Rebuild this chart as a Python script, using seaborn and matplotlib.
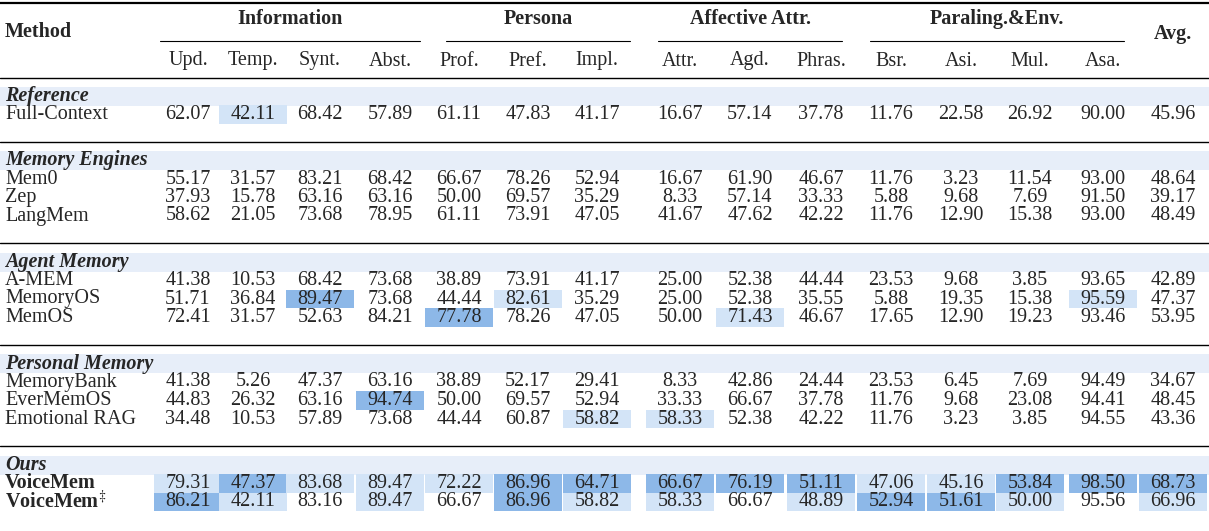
import numpy as np
import seaborn as sns
import matplotlib.pyplot as plt
from matplotlib.patches import Rectangle

sns.set_theme(style="white")
plt.rcParams['font.family'] = ['Liberation Serif', 'DejaVu Serif']
plt.rcParams['mathtext.fontset'] = 'stix'

groups = ["Information", "Persona", "Affective Attr.", "Paraling.&Env."]
sub_cols = ["Upd.", "Temp.", "Synt.", "Abst.", "Prof.", "Pref.", "Impl.",
            "Attr.", "Agd.", "Phras.", "Bsr.", "Asi.", "Mul.", "Asa."]

sections = ["Reference", "Memory Engines", "Agent Memory", "Personal Memory", "Ours"]
methods = [
    ["Full-Context"],
    ["Mem0", "Zep", "LangMem"],
    ["A-MEM", "MemoryOS", "MemOS"],
    ["MemoryBank", "EverMemOS", "Emotional RAG"],
    ["VoiceMem", "VoiceMem$^{\\ddagger}$"],
]

full_context = [62.07, 42.11, 68.42, 57.89, 61.11, 47.83, 41.17, 16.67, 57.14, 37.78, 11.76, 22.58, 26.92, 90.00, 45.96]
mem0 = [55.17, 31.57, 83.21, 68.42, 66.67, 78.26, 52.94, 16.67, 61.90, 46.67, 11.76, 3.23, 11.54, 93.00, 48.64]
zep = [37.93, 15.78, 63.16, 63.16, 50.00, 69.57, 35.29, 8.33, 57.14, 33.33, 5.88, 9.68, 7.69, 91.50, 39.17]
langmem = [58.62, 21.05, 73.68, 78.95, 61.11, 73.91, 47.05, 41.67, 47.62, 42.22, 11.76, 12.90, 15.38, 93.00, 48.49]
a_mem = [41.38, 10.53, 68.42, 73.68, 38.89, 73.91, 41.17, 25.00, 52.38, 44.44, 23.53, 9.68, 3.85, 93.65, 42.89]
memoryos = [51.71, 36.84, 89.47, 73.68, 44.44, 82.61, 35.29, 25.00, 52.38, 35.55, 5.88, 19.35, 15.38, 95.59, 47.37]
memos = [72.41, 31.57, 52.63, 84.21, 77.78, 78.26, 47.05, 50.00, 71.43, 46.67, 17.65, 12.90, 19.23, 93.46, 53.95]
memorybank = [41.38, 5.26, 47.37, 63.16, 38.89, 52.17, 29.41, 8.33, 42.86, 24.44, 23.53, 6.45, 7.69, 94.49, 34.67]
evermemos = [44.83, 26.32, 63.16, 94.74, 50.00, 69.57, 52.94, 33.33, 66.67, 37.78, 11.76, 9.68, 23.08, 94.41, 48.45]
emotional_rag = [34.48, 10.53, 57.89, 73.68, 44.44, 60.87, 58.82, 58.33, 52.38, 42.22, 11.76, 3.23, 3.85, 94.55, 43.36]
voicemem = [79.31, 47.37, 83.68, 89.47, 72.22, 86.96, 64.71, 66.67, 76.19, 51.11, 47.06, 45.16, 53.84, 98.50, 68.73]
voicemem_dd = [86.21, 42.11, 83.16, 89.47, 66.67, 86.96, 58.82, 58.33, 66.67, 48.89, 52.94, 51.61, 50.00, 95.56, 66.96]

values = [[full_context], [mem0, zep, langmem], [a_mem, memoryos, memos],
          [memorybank, evermemos, emotional_rag], [voicemem, voicemem_dd]]

# highlight level per cell: 2 = best, 1 = second
hl = {
    ("Full-Context", 1): 1,
    ("MemoryOS", 2): 2, ("MemoryOS", 5): 1, ("MemoryOS", 13): 1,
    ("MemOS", 4): 2, ("MemOS", 8): 1,
    ("EverMemOS", 3): 2,
    ("Emotional RAG", 6): 1, ("Emotional RAG", 7): 1,
}
vm_levels = [1, 2, 1, 1, 1, 2, 2, 2, 2, 2, 1, 1, 2, 2, 2]
vmd_levels = [2, 1, 0, 1, 0, 2, 1, 1, 0, 1, 2, 2, 1, 0, 1]
for j, lv in enumerate(vm_levels):
    if lv:
        hl[("VoiceMem", j)] = lv
for j, lv in enumerate(vmd_levels):
    if lv:
        hl[("VoiceMem$^{\\ddagger}$", j)] = lv

colors = {1: "#d3e4f7", 2: "#8db8e8"}
band = "#e7eef9"

# layout (pixel coordinates)
col_x = [188, 253, 320, 390, 459, 528, 597, 680, 750, 821, 891, 961, 1030, 1103, 1173]
cell_w = 68
spans = [(160, 420), (446, 630), (658, 842), (870, 1124)]

fig = plt.figure(figsize=(12.09, 5.31), dpi=100)
ax = fig.add_axes([0, 0, 1, 1])
ax.set_xlim(0, 1209)
ax.set_ylim(531, 0)
ax.axis("off")

fs = 14.5
ax.plot([0, 1209], [3, 3], color="black", lw=1.6)
ax.text(5, 32, "Method", fontsize=fs, fontweight="bold", va="center")
ax.text(col_x[-1], 34, "Avg.", fontsize=fs, fontweight="bold", va="center", ha="center")
for g, (x0, x1) in zip(groups, spans):
    ax.text((x0 + x1) / 2, 19, g, fontsize=fs, fontweight="bold", va="center", ha="center")
    ax.plot([x0, x1], [41, 41], color="black", lw=0.8)
for x, c in zip(col_x, sub_cols):
    ax.text(x, 61, c, fontsize=fs, va="center", ha="center")
ax.plot([0, 1209], [78, 78], color="black", lw=1.0)

y = 96
step, gap = 18.5, 46
for si, (sec, names, vals) in enumerate(zip(sections, methods, values)):
    if si > 0:
        y += gap - step
        ax.plot([0, 1209], [y - 19, y - 19], color="black", lw=1.0)
    ax.add_patch(Rectangle((0, y - 9.5), 1209, 19, color=band, lw=0))
    ax.text(5, y, sec, fontsize=fs, fontweight="bold", style="italic", va="center")
    for name, row in zip(names, vals):
        y += step
        bold = "VoiceMem" in name
        ax.text(5, y, name, fontsize=fs, va="center",
                fontweight="bold" if bold else "normal")
        for j, (x, v) in enumerate(zip(col_x, row)):
            lv = hl.get((name, j), 0)
            if lv:
                ax.add_patch(Rectangle((x - cell_w / 2, y - 9.25), cell_w, 18.5,
                                       color=colors[lv], lw=0))
            ax.text(x, y, f"{v:.2f}", fontsize=fs, va="center", ha="center")
    y += step

fig.savefig("out.png", dpi=100)
